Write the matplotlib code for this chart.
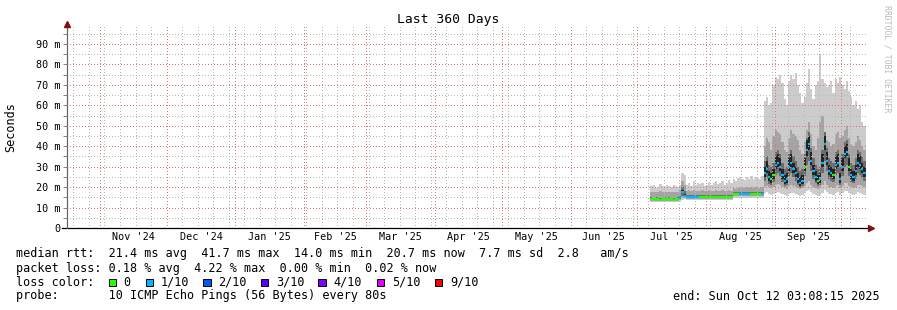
import matplotlib
matplotlib.use('Agg')
import matplotlib.dates as mdates
import matplotlib.pyplot as plt
import numpy as np
import pandas as pd
from matplotlib.patches import Rectangle
from matplotlib.ticker import FuncFormatter, MultipleLocator, NullFormatter

plt.rcParams['font.family'] = ['DejaVu Sans Mono']

# graph span (last 360 days)
span_start = pd.Timestamp('2024-10-17 03:08:15')
span_end = pd.Timestamp('2025-10-12 03:08:15')

# one sample per day, first probe data on Jul 7 2025
sample_start = '2025-07-07'
n_samples = 97

# median rtt (ms)
median_ms = [
    14.2, 14.0, 14.1, 14.0, 13.9, 14.0, 14.1, 14.0, 14.2, 14.0, 13.9, 14.0, 14.1, 14.6, 17.8,
    15.6, 15.3, 15.2, 15.3, 15.4, 15.3, 15.2, 15.3, 15.3, 15.2, 15.3, 15.4, 15.3, 15.2, 15.3,
    15.3, 15.2, 15.3, 15.4, 15.3, 15.2, 15.3,
    16.6, 16.5, 16.6, 16.7, 16.6, 16.5, 16.6, 16.6, 16.7, 16.6, 16.5, 16.6, 16.6, 16.7,
    27, 29, 25, 24, 26, 31, 32, 30, 26, 23, 24, 30, 32, 29, 27, 24, 22, 23, 30, 38,
    41, 33, 28, 25, 23, 24, 32, 41, 33, 28, 27, 26, 31, 32, 24, 30, 36, 37, 30, 26,
    25, 28, 32, 31, 29, 27,
]
# lost pings out of 10, per sample
loss = [
    0, 0, 0, 0, 0, 0, 0, 0, 0, 0, 0, 0, 0, 1, 1,
    1, 1, 1, 1, 1, 1, 1, 0, 0, 0, 0, 0, 0, 0, 0, 0, 0, 0, 0, 0, 0, 0,
    0, 0, 0, 1, 1, 1, 1, 1, 0, 0, 0, 0, 0, 1,
    1, 1, 1, 0, 0, 1, 1, 1, 1, 1, 1, 1, 1, 1, 1, 1, 1, 1, 0, 1,
    1, 1, 1, 1, 0, 1, 1, 1, 1, 1, 1, 0, 1, 1, 1, 1, 1, 1, 0, 1,
    1, 1, 1, 1, 1, 1,
]

# smoke: outer band (fastest / slowest ping)
smoke1_lo = [
    12.6, 12.5, 12.7, 12.6, 12.5, 12.6, 12.7, 12.5, 12.6, 12.7, 12.6, 12.5, 12.6, 12.8, 13.5,
    14.0, 13.7, 13.6, 13.7, 13.6, 13.7, 13.6, 13.7, 13.6, 13.7, 13.6, 13.7, 13.6, 13.7, 13.6,
    13.7, 13.6, 13.7, 13.6, 13.7, 13.6, 13.7,
    14.8, 14.9, 14.8, 14.9, 14.8, 14.9, 14.8, 14.9, 14.8, 14.9, 14.8, 14.9, 14.8, 14.9,
    17, 17.5, 16.5, 16, 16.5, 17, 17.5, 17, 16.5, 16, 15.5, 16.5, 17, 17, 16.5, 16, 15.5, 16, 17, 18,
    18.5, 17.5, 16.5, 16, 15.5, 16, 17, 18.5, 17.5, 16.5, 16.5, 16, 17, 17.5, 16, 17, 18, 18, 17, 16.5,
    16, 16.5, 17.5, 17, 16.5, 16,
]
smoke1_hi = [
    20.5, 21, 19.5, 20, 21.5, 20.5, 20, 21, 20.5, 20, 21, 20.5, 20, 21, 27,
    26, 21, 22, 20.5, 23, 21, 22, 21.5, 22, 20.5, 21, 22.5, 21, 22, 23,
    21.5, 22, 23, 21, 22, 23.5, 22,
    24, 23, 24.5, 25, 24, 23.5, 25, 24, 25.5, 24, 25, 24.5, 24, 25.5,
    62, 64, 60, 61, 70, 74, 73, 75, 71, 63, 60, 72, 75, 73, 76, 70, 66, 61, 64, 71,
    78, 68, 63, 70, 72, 85, 73, 71, 69, 70, 72, 66, 73, 71, 74, 70, 68, 72, 67, 64,
    60, 62, 58, 60, 52, 50,
]
# smoke: second band
smoke2_lo = [
    13.2, 13.1, 13.3, 13.2, 13.1, 13.2, 13.3, 13.1, 13.2, 13.3, 13.2, 13.1, 13.2, 13.5, 14.5,
    14.6, 14.3, 14.2, 14.3, 14.2, 14.3, 14.2, 14.3, 14.2, 14.3, 14.2, 14.3, 14.2, 14.3, 14.2,
    14.3, 14.2, 14.3, 14.2, 14.3, 14.2, 14.3,
    15.5, 15.6, 15.5, 15.6, 15.5, 15.6, 15.5, 15.6, 15.5, 15.6, 15.5, 15.6, 15.5, 15.6,
    20, 20.5, 20, 19.5, 20, 21, 21.5, 21, 20, 19.5, 19, 20.5, 21, 20.5, 20, 19.5, 19, 19.5, 20.5, 22,
    23, 21, 20, 19.5, 19, 19.5, 21, 23, 21, 20, 20, 19.5, 20.5, 21, 19.5, 20.5, 22, 22, 20.5, 20,
    19.5, 20, 21, 21, 20.5, 20,
]
smoke2_hi = [
    17.6, 17.8, 17.5, 17.7, 17.9, 17.6, 17.5, 17.8, 17.7, 17.6, 17.8, 17.7, 17.6, 18.5, 23,
    21, 18.2, 18.5, 18, 18.4, 18.1, 18.3, 18.2, 18.5, 18, 18.2, 18.6, 18.1, 18.3, 18.4,
    18.2, 18.3, 18.5, 18.1, 18.3, 18.6, 18.2,
    19.5, 19.3, 19.8, 20, 19.6, 19.4, 19.9, 19.5, 20.1, 19.6, 19.9, 19.7, 19.5, 20,
    40, 44, 42, 38, 45, 48, 47, 46, 42, 38, 37, 44, 48, 46, 45, 43, 38, 36, 42, 48,
    52, 46, 40, 38, 44, 52, 55, 47, 43, 42, 40, 41, 46, 47, 44, 45, 48, 50, 44, 41,
    40, 42, 45, 43, 40, 38,
]
# smoke: third band
smoke3_lo = [
    13.6, 13.5, 13.6, 13.5, 13.4, 13.5, 13.6, 13.5, 13.6, 13.5, 13.4, 13.5, 13.6, 14.0, 15.8,
    15.0, 14.8, 14.7, 14.8, 14.8, 14.7, 14.8, 14.8, 14.7, 14.8, 14.8, 14.7, 14.8, 14.8, 14.7,
    14.8, 14.8, 14.7, 14.8, 14.8, 14.7, 14.8,
    16.0, 16.1, 16.0, 16.1, 16.0, 16.1, 16.0, 16.1, 16.0, 16.1, 16.0, 16.1, 16.0, 16.1,
    23, 24.5, 21.5, 21, 22.5, 26, 27, 25.5, 22.5, 20.5, 21, 25.5, 27, 25, 23, 21, 19.5, 20.5, 25.5, 31,
    33, 28, 24, 22, 20.5, 21, 27, 33, 28, 24, 23, 22.5, 26, 27, 21, 25.5, 30, 31, 25.5, 22.5,
    22, 24, 27, 26, 24.5, 23,
]
smoke3_hi = [
    15.0, 14.9, 15.1, 15.0, 14.8, 14.9, 15.0, 14.9, 15.1, 14.9, 14.8, 14.9, 15.0, 15.8, 20,
    18, 16.2, 16.1, 16.2, 16.3, 16.2, 16.1, 16.2, 16.2, 16.1, 16.2, 16.3, 16.2, 16.1, 16.2,
    16.2, 16.1, 16.2, 16.3, 16.2, 16.1, 16.2,
    17.5, 17.4, 17.6, 17.7, 17.5, 17.4, 17.6, 17.5, 17.7, 17.5, 17.6, 17.5, 17.4, 17.7,
    33, 35, 31, 30, 32, 37, 38, 36, 32, 29, 30, 36, 38, 35, 33, 30, 28, 29, 36, 44,
    47, 39, 34, 31, 29, 30, 38, 47, 39, 34, 33, 32, 37, 38, 30, 36, 42, 43, 36, 32,
    31, 34, 38, 37, 35, 33,
]
# smoke: innermost band
smoke4_lo = [
    13.8, 13.6, 13.7, 13.6, 13.5, 13.6, 13.7, 13.6, 13.8, 13.6, 13.5, 13.6, 13.7, 14.2, 17.0,
    15.2, 14.9, 14.8, 14.9, 15.0, 14.9, 14.8, 14.9, 14.9, 14.8, 14.9, 15.0, 14.9, 14.8, 14.9,
    14.9, 14.8, 14.9, 15.0, 14.9, 14.8, 14.9,
    16.2, 16.1, 16.2, 16.3, 16.2, 16.1, 16.2, 16.2, 16.3, 16.2, 16.1, 16.2, 16.2, 16.3,
    25, 27, 23, 22, 24, 29, 30, 28, 24, 21.5, 22, 28, 30, 27, 25, 22, 20.5, 21.5, 28, 35,
    38, 31, 26, 23, 21.5, 22, 30, 38, 31, 26, 25, 24, 29, 30, 22, 28, 34, 35, 28, 24,
    23, 26, 30, 29, 27, 25,
]
smoke4_hi = [
    14.6, 14.4, 14.5, 14.4, 14.3, 14.4, 14.5, 14.4, 14.6, 14.4, 14.3, 14.4, 14.5, 15.0, 18.6,
    16.4, 15.7, 15.6, 15.7, 15.8, 15.7, 15.6, 15.7, 15.7, 15.6, 15.7, 15.8, 15.7, 15.6, 15.7,
    15.7, 15.6, 15.7, 15.8, 15.7, 15.6, 15.7,
    17.0, 16.9, 17.0, 17.1, 17.0, 16.9, 17.0, 17.0, 17.1, 17.0, 16.9, 17.0, 17.0, 17.1,
    30, 33, 28, 27, 29, 35, 36, 34, 29, 26, 27, 34, 36, 32, 30, 27, 25, 26, 34, 43,
    45, 37, 31, 28, 26, 27, 36, 45, 37, 31, 30, 29, 35, 36, 27, 34, 40, 41, 34, 29,
    28, 31, 36, 35, 32, 30,
]

month_starts = ['2024-11-01', '2024-12-01', '2025-01-01', '2025-02-01', '2025-03-01',
                '2025-04-01', '2025-05-01', '2025-06-01', '2025-07-01', '2025-08-01',
                '2025-09-01', '2025-10-01']
month_labels = ["Nov '24", "Dec '24", "Jan '25", "Feb '25", "Mar '25", "Apr '25",
                "May '25", "Jun '25", "Jul '25", "Aug '25", "Sep '25"]

loss_labels = ['0', '1/10', '2/10', '3/10', '4/10', '5/10', '9/10']
loss_colors = ['#26ff00', '#00b8ff', '#0059ff', '#5e00ff', '#7e00ff', '#dd00ff', '#ff0000']
loss_color_of = {0: '#26ff00', 1: '#00b8ff'}

legend_rows = [
    'median rtt:  21.4 ms avg  41.7 ms max  14.0 ms min  20.7 ms now  7.7 ms sd  2.8   am/s',
    'packet loss: 0.18 % avg  4.22 % max  0.00 % min  0.02 % now',
]
probe_text = 'probe:       10 ICMP Echo Pings (56 Bytes) every 80s'
end_text = 'end: Sun Oct 12 03:08:15 2025'

W, H = 897, 310
fig = plt.figure(figsize=(W / 100, H / 100), dpi=100)
fig.patch.set_facecolor('white')
left, right, bottom, top = 67, 866, 228, 26
ax = fig.add_axes([left / W, 1 - bottom / H, (right - left) / W, (bottom - top) / H])

x = mdates.date2num(pd.date_range(sample_start, periods=n_samples, freq='D'))
xe = np.append(x, x[-1] + 1)


def band(lo, hi, color):
    ax.fill_between(xe, np.append(lo, lo[-1]), np.append(hi, hi[-1]),
                    step='post', color=color, lw=0, zorder=1)


band(smoke1_lo, smoke1_hi, '#cccccc')
band(smoke2_lo, smoke2_hi, '#a4a4a4')
band(smoke3_lo, smoke3_hi, '#6c6c6c')
band(smoke4_lo, smoke4_hi, '#222222')

ax.hlines(median_ms, x, x + 1, colors=[loss_color_of[l] for l in loss], lw=1.6, zorder=4)

ax.set_xlim(mdates.date2num(span_start), mdates.date2num(span_end))
ax.set_ylim(0, 98.8)

# grid like rrdtool: small dots
ax.xaxis.set_major_locator(mdates.MonthLocator())
ax.xaxis.set_minor_locator(mdates.WeekdayLocator(byweekday=mdates.SU))
ax.xaxis.set_major_formatter(NullFormatter())
ax.yaxis.set_major_locator(MultipleLocator(10))
ax.yaxis.set_minor_locator(MultipleLocator(5))
ax.yaxis.set_major_formatter(FuncFormatter(lambda v, p: '0' if v == 0 else '%d m' % v))
ax.grid(which='minor', color='#b8b8b8', ls=(0, (0.9, 2.1)), lw=0.72, antialiased=False)
ax.grid(which='major', color='#e07575', ls=(0, (0.9, 2.1)), lw=0.72, antialiased=False)
ax.set_axisbelow(False)
for gl in ax.get_xgridlines() + ax.get_ygridlines():
    gl.set_zorder(3)

ax.tick_params(axis='x', which='both', length=0)
ax.tick_params(axis='y', which='both', length=3, width=0.7, color='#808080',
               labelsize=7.3, pad=2)
for s in ax.spines.values():
    s.set_visible(False)

# axis lines with arrows
ax.plot([-5 / 799, 1.004], [0, 0], color='black', lw=0.9, transform=ax.transAxes,
        clip_on=False, zorder=5)
ax.plot([0, 0], [0, 1.0], color='#666666', lw=0.9, transform=ax.transAxes,
        clip_on=False, zorder=5)
ax.plot([1.006], [0], marker='>', ms=4, color='#7f1010', transform=ax.transAxes,
        clip_on=False, zorder=6)
ax.plot([0], [1.012], marker='^', ms=4, color='#7f1010', transform=ax.transAxes,
        clip_on=False, zorder=6)

# month labels centred between month starts
ms = mdates.date2num(pd.to_datetime(month_starts))
for i, lab in enumerate(month_labels):
    ax.text((ms[i] + ms[i + 1]) / 2, -9.5 / 202, lab, transform=ax.get_xaxis_transform(),
            ha='center', va='center', fontsize=7.3)

fig.text(0.5, 1 - 19 / H, 'Last 360 Days', ha='center', va='center', fontsize=9.4)
fig.text(10.5 / W, 1 - 127 / H, 'Seconds', rotation=90, ha='center', va='center', fontsize=8.5)
fig.text(887 / W, 1 - 59 / H, 'RRDTOOL / TOBI OETIKER', rotation=-90, ha='center',
         va='center', fontsize=5.9, color='#bbbbbb')

rows_y = [254, 268.3, 282.3, 296]
for txt, yy in zip(legend_rows, rows_y):
    fig.text(16 / W, 1 - yy / H, txt, ha='left', va='center', fontsize=8.5)
fig.text(16 / W, 1 - rows_y[2] / H, 'loss color:', ha='left', va='center', fontsize=8.5)
box_x = [108.7, 145.7, 203.3, 260.7, 318.3, 376.7, 435.0]
for bx, lab, col in zip(box_x, loss_labels, loss_colors):
    fig.patches.append(Rectangle((bx / W, 1 - (rows_y[2] + 3.7) / H), 7.3 / W, 7.3 / H,
                                 transform=fig.transFigure, facecolor=col,
                                 edgecolor='black', lw=0.7))
    fig.text((bx + 15) / W, 1 - rows_y[2] / H, lab, ha='left', va='center', fontsize=8.5)
fig.text(16 / W, 1 - rows_y[3] / H, probe_text, ha='left', va='center', fontsize=8.5)
fig.text(880 / W, 1 - rows_y[3] / H, end_text, ha='right', va='center', fontsize=8.5)

fig.savefig('out.png', dpi=100)
